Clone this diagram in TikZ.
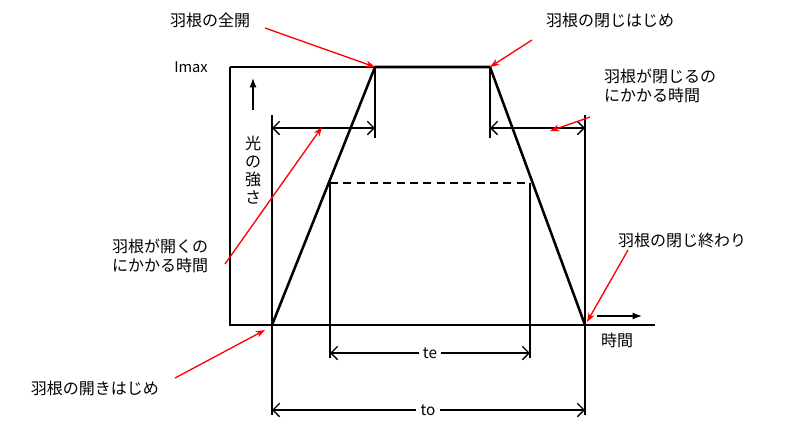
\documentclass[tikz,border=0pt]{standalone}
\usepackage{fontspec}
\setmainfont{Noto Sans CJK JP}
\usetikzlibrary{arrows.meta}
\begin{document}
\begin{tikzpicture}[x=0.75pt,y=-0.75pt,
  lbl/.style={font=\fontsize{12}{14.5}\selectfont,align=left,inner sep=1pt},
  red/.style={draw=red,line width=1pt,-{Stealth[length=7pt,width=5pt]}},
  blk/.style={draw=black,line width=1pt},
  dim/.style={draw=black,line width=1pt,{Straight Barb[length=5pt]}-{Straight Barb[length=5pt]}}]
\useasboundingbox (0,0) rectangle (800,440);
% axes
\draw[blk] (230,67) -- (230,325) -- (655,325);
\draw[blk] (230,67) -- (375,67);
% trapezoid
\coordinate (p0) at (272,325); \coordinate (p1) at (375,67);
\coordinate (p2) at (490,67); \coordinate (p3) at (585,325);
\draw[line width=1.9pt,line join=round] (p0) -- (p1) -- (p2) -- (p3);
% verticals
\draw[blk] (272,115) -- (272,415);
\draw[blk] (585,115) -- (585,415);
\draw[blk] (375,67) -- (375,138);
\draw[blk] (490,67) -- (490,138);
\draw[blk] (330,183) -- (330,358);
\draw[blk] (530,183) -- (530,358);
\draw[blk,dashed,dash pattern=on 6pt off 4pt] (330,183) -- (530,183);
% dimension arrows
\coordinate (a1) at (272,128); \coordinate (a2) at (375,128);
\draw[dim] (a1) -- (a2);
\coordinate (b1) at (490,128); \coordinate (b2) at (585,128);
\draw[dim] (b1) -- (b2);
\coordinate (c1) at (330,353); \coordinate (c2) at (530,353);
\draw[dim] (c1) -- (c2);
\node[fill=white,font=\fontsize{11.5}{13}\selectfont] (te) at (430,353) {te};
\coordinate (d1) at (272,410); \coordinate (d2) at (585,410);
\draw[dim] (d1) -- (d2);
\node[fill=white,font=\fontsize{11.5}{13}\selectfont] (to) at (428,410) {to};
% axis labels
\node[lbl,font=\fontsize{11}{13}\selectfont] (imax) at (191,67) {Imax};
\coordinate (v1) at (253,110); \coordinate (v2) at (253,78);
\draw[blk,-{Latex[length=7pt]}] (v1) -- (v2);
\node[lbl,align=center,font=\fontsize{12}{13.5}\selectfont] (hikari) at (253,170) {光\\の\\強\\さ};
\coordinate (h1) at (597,316); \coordinate (h2) at (642,316);
\draw[blk,-{Latex[length=7pt]}] (h1) -- (h2);
\node[lbl] (jikan) at (617,340) {時間};
% red labels
\node[lbl] (L1) at (210,20) {羽根の全開};
\draw[red] (265,28) -- (p1);
\node[lbl] (L2) at (610,20) {羽根の閉じはじめ};
\draw[red] (532,40) -- (p2);
\node[lbl] (L3) at (660,86) {羽根が閉じるの\\にかかる時間};
\draw[red] (590,117) -- (550,131);
\node[lbl] (L4) at (160,256) {羽根が開くの\\にかかる時間};
\draw[red] (225,264) -- (322,127);
\node[lbl] (L5) at (682,240) {羽根の閉じ終わり};
\draw[red] (628,250) -- (587,322);
\node[lbl] (L6) at (95,388) {羽根の開きはじめ};
\draw[red] (175,378) -- (265,330);
\end{tikzpicture}
\end{document}
